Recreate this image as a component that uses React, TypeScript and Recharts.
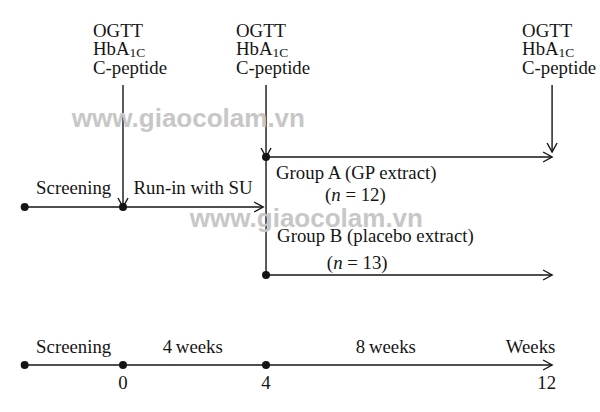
import { ComposedChart, XAxis, YAxis, ReferenceLine, ReferenceDot, Scatter } from 'recharts'

// time axis in weeks
const WEEK_SCREEN = -2.75
const WEEK_START = 0
const WEEK_RAND = 4
const WEEK_END = 12

// vertical lanes (chart rows, top = 0)
const LANE_TOP = 8.5
const LANE_A = 15.7
const LANE_RUNIN = 20.7
const LANE_B = 27.5
const LANE_TIME = 36.5

const ASSESS_WEEKS = [WEEK_START, WEEK_RAND, WEEK_END]
const ASSESS_STOP = [LANE_RUNIN, LANE_A, 15.2]
const TIMELINE_DOTS = [WEEK_SCREEN, WEEK_START, WEEK_RAND]
const TICK_WEEKS = [0, 4, 12]
const TICK_LABELS = ['0', '4', '12']
const PHASE_X = [-1.38, 1.95, 7.35, 11.98]
const PHASE_LABELS = ['Screening', '4\u2009weeks', '8\u2009weeks', 'Weeks']
const WATERMARK = 'www.giaocolam.vn'

const INK = '#151515'
const SERIF = '"Liberation Serif", "Times New Roman", serif'
const FS = 18.8

type Label = { x: number; y: number; text: string; anchor?: string; kind?: string }

const LABELS: Label[] = [
  { x: -1.43, y: 12.7, text: WATERMARK, kind: 'wm', anchor: 'start' },
  { x: 1.87, y: 22.7, text: WATERMARK, kind: 'wm', anchor: 'start' },
  ...ASSESS_WEEKS.map(w => ({ x: w, y: 3.65, text: '', kind: 'assess' })),
  { x: -1.38, y: 19.4, text: 'Screening', anchor: 'middle' },
  { x: 1.96, y: 19.4, text: 'Run-in with SU', anchor: 'middle' },
  { x: 4.28, y: 17.9, text: 'Group A (GP extract)', anchor: 'start' },
  { x: 6.5, y: 20.1, text: '12', kind: 'n' },
  { x: 4.31, y: 24.2, text: 'Group B (placebo extract)', anchor: 'start' },
  { x: 6.55, y: 26.9, text: '13', kind: 'n' },
  ...PHASE_LABELS.map((t, i) => ({ x: PHASE_X[i], y: 35.3, text: t, anchor: i === 3 ? 'end' : 'middle' })),
  ...TICK_WEEKS.map((w, i) => ({ x: w, y: 38.9, text: TICK_LABELS[i], anchor: i === 2 ? 'end' : 'middle' })),
]

function LabelShape(props: any) {
  const { cx, cy, payload } = props
  const p = payload as Label
  if (p.kind === 'wm') {
    return (
      <text x={cx} y={cy} fill="#c7c7c7" fontFamily='"Liberation Sans", Arial, sans-serif'
        fontWeight={700} fontSize={26}>{p.text}</text>
    )
  }
  if (p.kind === 'assess') {
    return (
      <text x={cx - 30} y={cy} fill={INK} fontFamily={SERIF} fontSize={FS}>
        <tspan x={cx - 30}>OGTT</tspan>
        <tspan x={cx - 30} dy={18.8}>HbA</tspan>
        <tspan fontSize={13.5} dy={2}>1C</tspan>
        <tspan x={cx - 30} dy={17}>C-peptide</tspan>
      </text>
    )
  }
  if (p.kind === 'n') {
    return (
      <text x={cx} y={cy} fill={INK} fontFamily={SERIF} fontSize={FS} textAnchor="middle">
        (<tspan fontStyle="italic">n</tspan> = {p.text})
      </text>
    )
  }
  const dx = p.anchor === 'end' ? 4 : 0
  return (
    <text x={cx + dx} y={cy} fill={INK} fontFamily={SERIF} fontSize={FS}
      textAnchor={(p.anchor as any) || 'middle'}>{p.text}</text>
  )
}

function arrow(head: boolean) {
  return (p: any) => {
    const { x1, y1, x2, y2 } = p
    const a = Math.atan2(y2 - y1, x2 - x1)
    const L = 9, W = 5
    const bx = x2 - L * Math.cos(a), by = y2 - L * Math.sin(a)
    const px = -Math.sin(a) * W, py = Math.cos(a) * W
    return (
      <g>
        <line x1={x1} y1={y1} x2={x2} y2={y2} stroke={INK} strokeWidth={1.4} />
        {head && (
          <polyline points={`${bx + px},${by + py} ${x2},${y2} ${bx - px},${by - py}`}
            fill="none" stroke={INK} strokeWidth={1.4} />
        )}
      </g>
    )
  }
}

export default function App() {
  return (
    <div style={{ position: 'absolute', left: 0, top: 0, width: 600, height: 412, background: '#fff' }}>
      <ComposedChart width={600} height={412} margin={{ top: 0, right: 0, bottom: 0, left: 0 }}>
        <XAxis type="number" dataKey="x" domain={[-3.44, 13.34]} hide allowDataOverflow />
        <YAxis type="number" dataKey="y" domain={[0, 41.2]} reversed hide allowDataOverflow />
        <Scatter data={LABELS} shape={LabelShape} isAnimationActive={false} />

        {ASSESS_WEEKS.map((w, i) => (
          <ReferenceLine key={'as' + i} segment={[{ x: w, y: LANE_TOP }, { x: w, y: ASSESS_STOP[i] }]}
            shape={arrow(true)} />
        ))}
        <ReferenceLine segment={[{ x: WEEK_SCREEN, y: LANE_RUNIN }, { x: 3.92, y: LANE_RUNIN }]} shape={arrow(true)} />
        <ReferenceLine segment={[{ x: WEEK_RAND, y: LANE_A }, { x: WEEK_END, y: LANE_A }]} shape={arrow(true)} />
        <ReferenceLine segment={[{ x: WEEK_RAND, y: LANE_B }, { x: WEEK_END, y: LANE_B }]} shape={arrow(true)} />
        <ReferenceLine segment={[{ x: WEEK_RAND, y: LANE_A }, { x: WEEK_RAND, y: LANE_B }]} shape={arrow(false)} />
        <ReferenceLine segment={[{ x: WEEK_SCREEN, y: LANE_TIME }, { x: WEEK_END, y: LANE_TIME }]} shape={arrow(true)} />

        {[WEEK_SCREEN, WEEK_START].map((w, i) => (
          <ReferenceDot key={'rd' + i} x={w} y={LANE_RUNIN} r={4} fill={INK} stroke="none" />
        ))}
        <ReferenceDot x={WEEK_RAND} y={LANE_A} r={4} fill={INK} stroke="none" />
        <ReferenceDot x={WEEK_RAND} y={LANE_B} r={4} fill={INK} stroke="none" />
        {TIMELINE_DOTS.map((w, i) => (
          <ReferenceDot key={'td' + i} x={w} y={LANE_TIME} r={4} fill={INK} stroke="none" />
        ))}
      </ComposedChart>
    </div>
  )
}
